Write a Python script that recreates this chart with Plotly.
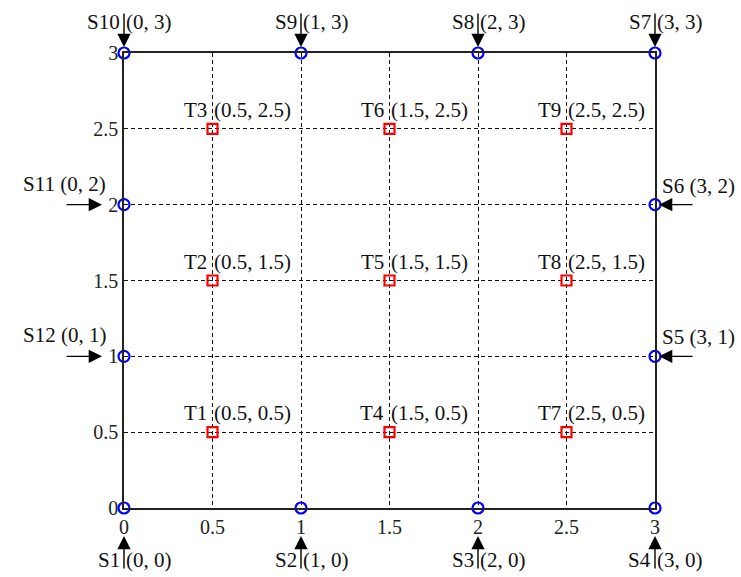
import plotly.graph_objects as go

sensor_names = ["S1", "S2", "S3", "S4", "S5", "S6", "S7", "S8", "S9", "S10", "S11", "S12"]
sensor_x = [0, 1, 2, 3, 3, 3, 3, 2, 1, 0, 0, 0]
sensor_y = [0, 0, 0, 0, 1, 2, 3, 3, 3, 3, 2, 1]

target_names = ["T1", "T2", "T3", "T4", "T5", "T6", "T7", "T8", "T9"]
target_x = [0.5, 0.5, 0.5, 1.5, 1.5, 1.5, 2.5, 2.5, 2.5]
target_y = [0.5, 1.5, 2.5, 0.5, 1.5, 2.5, 0.5, 1.5, 2.5]

tick_vals = [0, 0.5, 1, 1.5, 2, 2.5, 3]
tick_text = ["0", "0.5", "1", "1.5", "2", "2.5", "3"]

FONT = "Liberation Serif, Times New Roman, serif"
LBL = dict(family=FONT, size=21, color="#111111")


def fmt(v):
    return str(int(v)) if float(v).is_integer() else str(v)


fig = go.Figure()
fig.add_trace(go.Scatter(
    x=target_x, y=target_y, mode="markers", cliponaxis=False,
    marker=dict(symbol="square-open", size=10, color="#ff0000", line=dict(width=2.2, color="#ff0000")),
    hoverinfo="skip", showlegend=False))
fig.add_trace(go.Scatter(
    x=sensor_x, y=sensor_y, mode="markers", cliponaxis=False,
    marker=dict(symbol="circle-open", size=11, color="#0000ff", line=dict(width=2.2, color="#0000ff")),
    hoverinfo="skip", showlegend=False))

ann = []
for n, x, y in zip(target_names, target_x, target_y):
    ann.append(dict(x=x, y=y, text=n, showarrow=False, xanchor="right", yanchor="middle",
                    xshift=-4, yshift=19, font=LBL))
    ann.append(dict(x=x, y=y, text=f"({fmt(x)}, {fmt(y)})", showarrow=False, xanchor="left",
                    yanchor="middle", xshift=-1, yshift=19, font=LBL))

arrow_style = dict(showarrow=True, arrowhead=2, arrowsize=1.9, arrowwidth=1.4, arrowcolor="#000000", text="")

for n, x, y in zip(sensor_names, sensor_x, sensor_y):
    coord = f"({fmt(x)}, {fmt(y)})"
    if y == 0:
        ann.append(dict(x=x, y=y, text=n, showarrow=False, xanchor="right", yanchor="middle",
                        xshift=-2, yshift=-52, font=LBL))
        ann.append(dict(x=x, y=y, text=coord, showarrow=False, xanchor="left", yanchor="middle",
                        xshift=0, yshift=-52, font=LBL))
        ann.append(dict(x=x, y=y, yshift=-28, ax=0, ay=34, **arrow_style))
    elif y == 3:
        ann.append(dict(x=x, y=y, text=n, showarrow=False, xanchor="right", yanchor="middle",
                        xshift=-2, yshift=31, font=LBL))
        ann.append(dict(x=x, y=y, text=coord, showarrow=False, xanchor="left", yanchor="middle",
                        xshift=0, yshift=31, font=LBL))
        ann.append(dict(x=x, y=y, yshift=6, ax=0, ay=-35, **arrow_style))
    elif x == 0:
        ann.append(dict(x=x, y=y, text=f"{n} {coord}", showarrow=False, xanchor="center",
                        yanchor="middle", xshift=-60, yshift=21, font=LBL))
        ann.append(dict(x=x, y=y, xshift=-22, ax=-37, ay=0, **arrow_style))
    else:
        ann.append(dict(x=x, y=y, text=f"{n} {coord}", showarrow=False, xanchor="center",
                        yanchor="middle", xshift=43, yshift=19, font=LBL))
        ann.append(dict(x=x, y=y, xshift=4, ax=35, ay=0, **arrow_style))

axis_common = dict(
    range=[0, 3], tickmode="array", tickvals=tick_vals, ticktext=tick_text,
    showgrid=True, gridcolor="#111111", gridwidth=1.1, griddash="4px,3px",
    zeroline=False, showline=True, linecolor="#222222", linewidth=1.5, mirror=True,
    ticks="", tickfont=dict(family=FONT, size=20, color="#222222"),
)

fig.update_layout(
    width=741, height=577,
    margin=dict(l=124, r=86, t=53, b=69),
    paper_bgcolor="white", plot_bgcolor="white",
    xaxis=dict(**axis_common),
    yaxis=dict(**axis_common),
    annotations=ann,
    showlegend=False,
)

fig.write_html("out.html")
